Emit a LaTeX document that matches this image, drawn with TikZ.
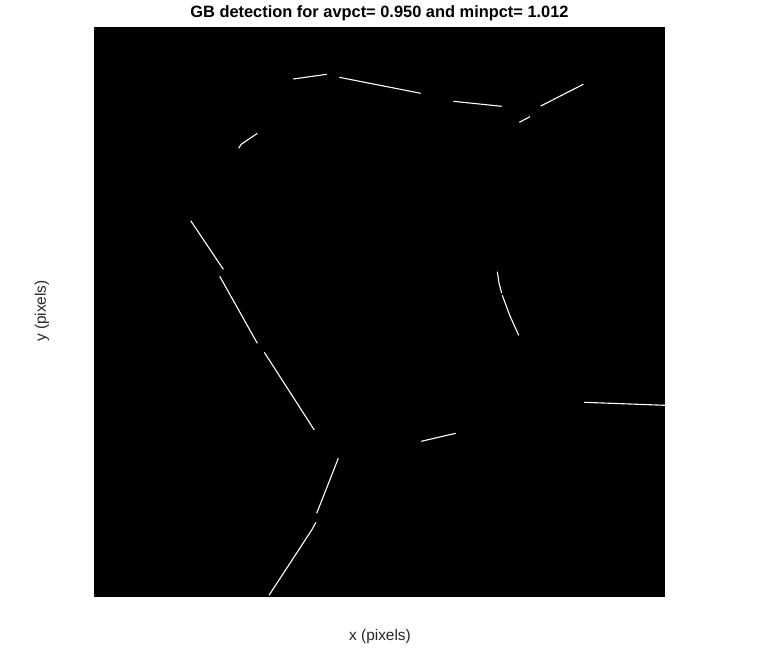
\documentclass[tikz,border=0pt]{standalone}
\usepackage{fontspec}
\setmainfont{Liberation Sans}
\begin{document}
\begin{tikzpicture}[x=1pt,y=-1pt,
  gb/.style={white,line width=1.1pt,line cap=butt,line join=round},
  lbl/.style={font=\fontsize{15.4}{17}\selectfont,text=black!85}]
\useasboundingbox[fill=white] (0,0) rectangle (759,651);
\fill[black] (94,27) rectangle (665,597);
\node[font=\bfseries\fontsize{16.4}{18}\selectfont] (title) at (379.5,13) {GB detection for avpct= 0.950 and minpct= 1.012};
\node[lbl] (xl) at (380,637) {x (pixels)};
\node[lbl,rotate=90] (yl) at (42,311) {y (pixels)};
% segments
\draw[gb] (293.3,79) -- (326.7,74.3);
\draw[gb] (339.3,77.3) -- (420.7,93.3);
\draw[gb] (453.3,101.3) -- (501.7,106.3);
\draw[gb] (540.7,106) -- (583.3,84.3);
\draw[gb] (519.3,122.3) -- (530,116.7);
\draw[gb] (238.7,148.3) -- (241,144.5) -- (257.3,133.3);
\draw[gb] (190.7,220.7) -- (223.3,269.3);
\draw[gb] (219.7,276.3) -- (257.3,343.3);
\draw[gb] (264.3,352.3) -- (314.3,430);
\draw[gb] (497.3,271.7) -- (499,283) -- (501.7,293.3);
\draw[gb] (502.3,295.3) -- (510,316) -- (518.7,335.3);
\draw[gb] (584,402.3) -- (665,405.3);
\draw[gb] (421.3,441.3) -- (455.7,433.3);
\draw[gb] (338.3,458.3) -- (316.7,513.3);
\draw[gb] (316,522.3) -- (311.7,530) -- (269,595.3);
\end{tikzpicture}
\end{document}
